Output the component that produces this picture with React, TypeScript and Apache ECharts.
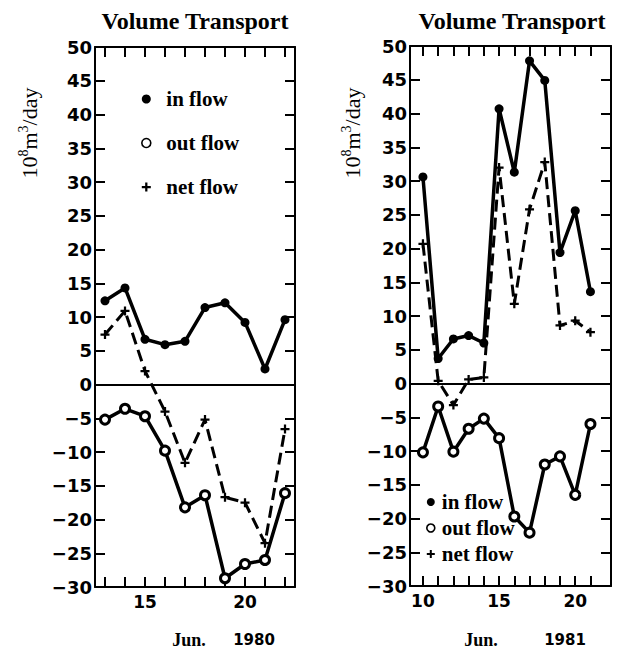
import React, { useEffect, useRef } from "react";
import * as echarts from "echarts";

// ---- data ----
const days1980 = [13, 14, 15, 16, 17, 18, 19, 20, 21, 22];
const inFlow1980 = [12.4, 14.3, 6.7, 5.9, 6.4, 11.4, 12.1, 9.2, 2.3, 9.6];
const outFlow1980 = [-5.2, -3.6, -4.7, -9.8, -18.2, -16.4, -28.7, -26.6, -26.0, -16.1];
const netFlow1980 = [7.4, 10.9, 2.0, -4.0, -11.6, -5.2, -16.7, -17.5, -23.5, -6.6];

const days1981 = [10, 11, 12, 13, 14, 15, 16, 17, 18, 19, 20, 21];
const inFlow1981 = [30.6, 3.7, 6.6, 7.1, 6.0, 40.7, 31.3, 47.8, 44.9, 19.4, 25.6, 13.6];
const outFlow1981 = [-10.2, -3.4, -10.1, -6.7, -5.2, -8.1, -19.7, -22.1, -12.0, -10.8, -16.5, -6.0];
const netFlow1981 = [20.7, 0.4, -3.2, 0.6, 0.9, 32.0, 11.8, 25.8, 32.8, 8.6, 9.3, 7.6];

const xLabels1980 = [15, 20];
const xLabels1981 = [10, 15, 20];
const seriesNames = ["in flow", "out flow", "net flow"];

const PLUS = "path://M-1,-4H1V-1H4V1H1V4H-1V1H-4V-1H-1Z";
const SERIF = "Liberation Serif, Times New Roman, serif";
const SANS = "DejaVu Sans, Liberation Sans, sans-serif";

const pair = (xs: number[], ys: number[]) => xs.map((x, i) => [x, ys[i]]);

export default function App() {
  const ref = useRef<HTMLDivElement>(null);
  useEffect(() => {
    if (!ref.current) return;
    const chart = echarts.init(ref.current, undefined, { renderer: "svg" });

    const axisLine = { show: true, onZero: false, lineStyle: { color: "#000", width: 2 } };
    const tickStyle = { color: "#000", width: 2 };
    const yLabel = {
      color: "#000",
      fontFamily: SANS,
      fontWeight: "bold",
      fontSize: 18,
      margin: 3,
      formatter: (v: number) => (v < 0 ? "\u2212" + Math.abs(v) : String(v)),
    };
    const xLabel = { color: "#000", fontFamily: SANS, fontWeight: "bold", fontSize: 17, margin: 6 };

    const mkX = (grid: number, min: number, max: number, ticks: number[], labels: number[], pos: string) => ({
      gridIndex: grid,
      type: "value",
      min,
      max,
      position: pos,
      axisLine,
      axisTick: { show: true, inside: true, length: 10, customValues: ticks, lineStyle: tickStyle },
      axisLabel: pos === "bottom" ? { ...xLabel, customValues: labels } : { show: false },
      splitLine: { show: false },
    });
    const mkY = (grid: number, pos: string) => ({
      gridIndex: grid,
      type: "value",
      min: -30,
      max: 50,
      interval: 5,
      position: pos,
      axisLine,
      axisTick: { show: true, inside: true, length: 10, lineStyle: tickStyle },
      axisLabel: pos === "left" ? yLabel : { show: false },
      splitLine: { show: false },
    });

    const mkSeries = (grid: number, days: number[], inF: number[], outF: number[], netF: number[]) => [
      {
        name: seriesNames[0],
        type: "line",
        xAxisIndex: grid * 2,
        yAxisIndex: grid * 2,
        data: pair(days, inF),
        symbol: "circle",
        symbolSize: 9,
        itemStyle: { color: "#000" },
        lineStyle: { color: "#000", width: 3.5 },
        z: 3,
        markLine: {
          silent: true,
          symbol: "none",
          label: { show: false },
          lineStyle: { color: "#000", width: 2, type: "solid" },
          data: [{ yAxis: 0 }],
        },
      },
      {
        name: seriesNames[1],
        type: "line",
        xAxisIndex: grid * 2,
        yAxisIndex: grid * 2,
        data: pair(days, outF),
        symbol: "circle",
        symbolSize: 9,
        itemStyle: { color: "#fff", borderColor: "#000", borderWidth: 3 },
        lineStyle: { color: "#000", width: 3.5 },
        z: 3,
      },
      {
        name: seriesNames[2],
        type: "line",
        xAxisIndex: grid * 2,
        yAxisIndex: grid * 2,
        data: pair(days, netF),
        symbol: PLUS,
        symbolSize: 9,
        itemStyle: { color: "#000" },
        lineStyle: { color: "#000", width: 3, type: [12, 6] },
        z: 2,
      },
    ];

    const legendData = [
      { name: seriesNames[0], icon: "circle", itemStyle: { color: "#000", borderWidth: 0 } },
      { name: seriesNames[1], icon: "circle", itemStyle: { color: "#fff", borderColor: "#000", borderWidth: 1.6 } },
      { name: seriesNames[2], icon: PLUS, itemStyle: { color: "#000", borderWidth: 0 } },
    ];
    const legendText = { fontFamily: SERIF, fontWeight: "bold", fontSize: 21, lineHeight: 22, color: "#000" };

    const yName = (x: number) => ({
      type: "text",
      x,
      y: 133,
      rotation: Math.PI / 2,
      style: {
        text: "{a|10}{s|8}{a|m}{s|3}{a|/day}",
        align: "center",
        verticalAlign: "middle",
        fill: "#000",
        rich: {
          a: { fontSize: 22, fontFamily: SERIF, lineHeight: 24, verticalAlign: "bottom", fill: "#000" },
          s: { fontSize: 14, fontFamily: SERIF, lineHeight: 14, verticalAlign: "top", fill: "#000" },
        },
      },
    });
    const txt = (text: string, x: number, y: number, font: string, size: number) => ({
      type: "text",
      x,
      y,
      style: { text, align: "center", verticalAlign: "middle", fill: "#000", fontFamily: font, fontWeight: "bold", fontSize: size },
    });

    chart.setOption({
      animation: false,
      backgroundColor: "#fff",
      grid: [
        { left: 95, top: 47, width: 200, height: 540 },
        { left: 410, top: 46, width: 201, height: 540 },
      ],
      xAxis: [
        mkX(0, 12.5, 22.5, days1980, xLabels1980, "bottom"),
        mkX(0, 12.5, 22.5, days1980, xLabels1980, "top"),
        mkX(1, 9.15, 22.35, days1981, xLabels1981, "bottom"),
        mkX(1, 9.15, 22.35, days1981, xLabels1981, "top"),
      ],
      yAxis: [mkY(0, "left"), mkY(0, "right"), mkY(1, "left"), mkY(1, "right")],
      legend: [
        {
          orient: "vertical",
          left: 136,
          top: 83,
          itemWidth: 30,
          itemHeight: 9,
          itemGap: 22,
          selectedMode: false,
          textStyle: legendText,
          data: legendData,
        },
        {
          orient: "vertical",
          left: 421,
          top: 486,
          itemWidth: 12,
          itemHeight: 8,
          itemGap: 4,
          selectedMode: false,
          textStyle: legendText,
          data: legendData,
        },
      ],
      graphic: [
        txt("Volume Transport", 195, 21, SERIF, 24),
        txt("Volume Transport", 512, 21, SERIF, 24),
        yName(28),
        yName(351),
        txt("Jun.", 189, 640, SERIF, 18),
        txt("1980", 254, 640, SANS, 15),
        txt("Jun.", 481, 640, SERIF, 18),
        txt("1981", 565, 640, SANS, 15),
      ],
      series: [
        ...mkSeries(0, days1980, inFlow1980, outFlow1980, netFlow1980),
        ...mkSeries(1, days1981, inFlow1981, outFlow1981, netFlow1981),
      ],
    } as any);
    return () => chart.dispose();
  }, []);
  return (
    <div
      ref={ref}
      style={{ position: "absolute", left: 0, top: 0, width: 621, height: 650, background: "#fff" }}
    />
  );
}
